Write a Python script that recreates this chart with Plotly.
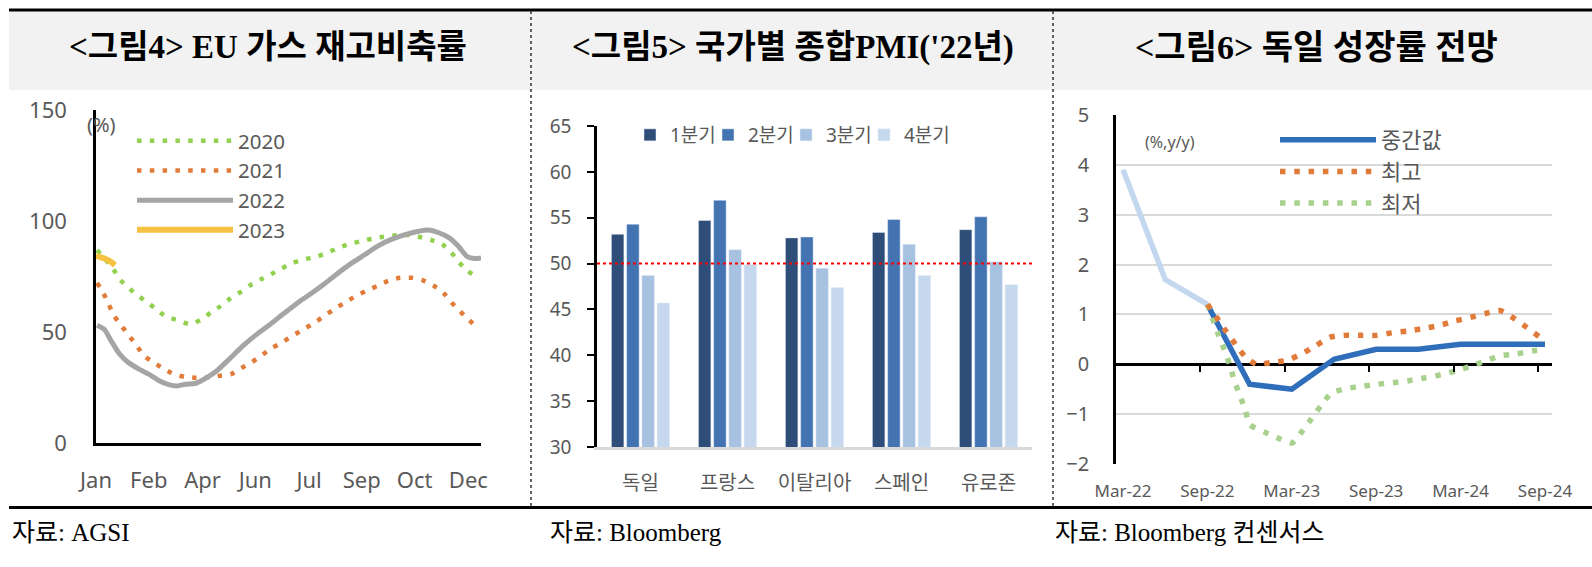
import plotly.graph_objects as go

W, H = 1592, 567


def fx(px):
    return px / W


def fy(py):
    return 1 - py / H


# ---------------- Panel 1: EU gas storage (%) ----------------
MONTH_TICK_DAYS = [0, 50, 101, 151, 202, 252, 302, 353]
MONTH_TICK_LABELS = ["Jan", "Feb", "Apr", "Jun", "Jul", "Sep", "Oct", "Dec"]

DAYS_2020 = [1, 16, 22, 30, 39, 49, 58, 67, 78, 89, 100, 109, 118, 127, 137, 146, 156, 166, 176,
             187, 197, 209, 219, 230, 240, 251, 262, 273, 285, 296, 307, 318, 328, 337, 344, 352, 362]
VAL_2020 = [86.9, 78.6, 74.0, 70.3, 66.6, 63.3, 59.8, 56.8, 55.3, 53.5, 55.6, 58.8, 61.6, 65.0, 68.0,
            71.0, 73.6, 76.0, 78.6, 81.2, 82.7, 83.9, 85.7, 87.9, 89.6, 90.9, 92.1, 92.9, 93.6, 93.6,
            92.8, 91.4, 89.6, 85.7, 81.5, 77.6, 74.6]

DAYS_2021 = [1, 7, 12, 17, 24, 31, 38, 45, 54, 64, 74, 84, 95, 107, 118, 128, 138, 148, 158, 167,
             177, 187, 197, 207, 216, 226, 236, 246, 256, 267, 277, 288, 299, 310, 321, 330, 337, 345, 354, 362]
VAL_2021 = [72.1, 67.6, 62.5, 57.4, 52.9, 48.5, 44.3, 39.5, 36.5, 33.5, 31.0, 29.8, 29.4, 29.6, 30.3,
            31.0, 33.8, 36.5, 39.8, 42.8, 45.5, 48.5, 51.3, 54.1, 57.1, 60.3, 63.3, 66.1, 68.5, 70.8,
            73.0, 74.4, 74.4, 73.3, 70.6, 67.3, 63.3, 59.4, 55.3, 51.6]

DAYS_2022 = [1, 8, 14, 22, 30, 40, 50, 59, 69, 77, 85, 94, 102, 114, 126, 139, 152, 165, 178, 191,
             203, 216, 229, 242, 255, 267, 280, 293, 306, 315, 325, 335, 344, 352, 359, 365]
VAL_2022 = [53.0, 51.1, 46.3, 40.3, 36.5, 33.5, 31.0, 28.3, 26.3, 25.7, 26.5, 26.8, 28.6, 32.3, 37.6,
            43.6, 48.8, 53.4, 58.3, 63.1, 67.0, 71.5, 76.4, 80.9, 84.9, 88.7, 91.7, 93.9, 95.4, 95.9,
            94.7, 92.4, 88.4, 83.9, 83.1, 83.4]

DAYS_2023 = [0, 8, 14, 18]
VAL_2023 = [84.3, 83.1, 81.6, 80.1]

# ---------------- Panel 2: composite PMI 2022 ----------------
COUNTRIES = ["독일", "프랑스", "이탈리아", "스페인", "유로존"]
QUARTERS = ["1분기", "2분기", "3분기", "4분기"]
PMI_Q1 = [53.2, 54.7, 52.8, 53.4, 53.7]
PMI_Q2 = [54.3, 56.9, 52.9, 54.8, 55.1]
PMI_Q3 = [48.7, 51.5, 49.5, 52.1, 50.2]
PMI_Q4 = [45.7, 49.9, 47.4, 48.7, 47.7]
PMI_THRESHOLD = 50

# ---------------- Panel 3: German growth outlook (%, y/y) ----------------
# x = months since Mar-22
GROWTH_TICKS = [0, 6, 12, 18, 24, 30]
GROWTH_TICK_LABELS = ["Mar-22", "Sep-22", "Mar-23", "Sep-23", "Mar-24", "Sep-24"]
GROWTH_MINOR_TICKS = [5.5, 11.5, 17.5, 23.5, 29.5]

ACTUAL_M = [0, 3, 6]
ACTUAL_V = [3.9, 1.7, 1.2]

MEDIAN_M = [6, 9, 12, 15, 18, 21, 24, 27, 30]
MEDIAN_V = [1.2, -0.4, -0.5, 0.1, 0.3, 0.3, 0.4, 0.4, 0.4]

HIGH_M = [6.0, 6.7, 7.3, 8.0, 8.7, 9.5, 10.6, 11.7, 12.7, 13.7, 14.7, 15.7, 16.9, 18.0, 19.1, 20.3,
          21.4, 22.5, 23.6, 24.7, 25.8, 26.8, 27.8, 28.7, 29.6, 29.9]
HIGH_V = [1.20, 0.92, 0.67, 0.40, 0.15, 0.00, 0.04, 0.08, 0.21, 0.37, 0.54, 0.58, 0.58, 0.58, 0.63,
          0.67, 0.72, 0.78, 0.87, 0.94, 1.02, 1.08, 0.92, 0.74, 0.55, 0.49]

LOW_M = [6.0, 6.4, 6.8, 7.2, 7.6, 7.9, 8.3, 8.7, 9.0, 10.05, 11.1, 12.0, 12.75, 13.4, 14.1, 14.8,
         15.8, 17.0, 18.1, 19.2, 20.3, 21.5, 22.6, 23.7, 24.7, 25.8, 26.8, 28.0, 29.1, 29.9]
LOW_V = [1.20, 0.88, 0.58, 0.29, -0.02, -0.32, -0.62, -0.92, -1.21, -1.36, -1.49, -1.58, -1.34, -1.09,
         -0.82, -0.58, -0.49, -0.44, -0.40, -0.37, -0.33, -0.27, -0.21, -0.13, -0.04, 0.07, 0.17, 0.21,
         0.27, 0.30]

SANS = "Noto Sans, Noto Sans CJK KR, sans-serif"
SERIF = "Liberation Serif, Noto Sans CJK KR, serif"
TXT = "#595959"

fig = go.Figure()

# Panel 1 traces
fig.add_trace(go.Scatter(x=DAYS_2020, y=VAL_2020, name="2020", mode="lines",
                         line=dict(color="#92D050", width=4.5, dash="4.5px,8.3px", shape="spline", smoothing=0.6),
                         xaxis="x", yaxis="y", legend="legend"))
fig.add_trace(go.Scatter(x=DAYS_2021, y=VAL_2021, name="2021", mode="lines",
                         line=dict(color="#E07B39", width=4.5, dash="4.5px,8.3px", shape="spline", smoothing=0.6),
                         xaxis="x", yaxis="y", legend="legend"))
fig.add_trace(go.Scatter(x=DAYS_2022, y=VAL_2022, name="2022", mode="lines",
                         line=dict(color="#A5A5A5", width=5, shape="spline", smoothing=0.6),
                         xaxis="x", yaxis="y", legend="legend"))
fig.add_trace(go.Scatter(x=DAYS_2023, y=VAL_2023, name="2023", mode="lines",
                         line=dict(color="#F5C242", width=6, shape="spline", smoothing=0.6),
                         xaxis="x", yaxis="y", legend="legend"))

# Panel 2 traces
for i, (name, vals, col) in enumerate(zip(QUARTERS, [PMI_Q1, PMI_Q2, PMI_Q3, PMI_Q4],
                                          ["#2E4D78", "#4373B1", "#A7C1E1", "#C5D8EE"])):
    fig.add_trace(go.Bar(x=COUNTRIES, y=vals, name=name, marker=dict(color=col),
                         xaxis="x2", yaxis="y2", legend="legend2",
                         legendwidth=60 if i == len(QUARTERS) - 1 else 33))

# Panel 3 traces
fig.add_trace(go.Scatter(x=ACTUAL_M, y=ACTUAL_V, name="실적", mode="lines", showlegend=False,
                         line=dict(color="#C3D7EE", width=5.5), xaxis="x3", yaxis="y3"))
fig.add_trace(go.Scatter(x=MEDIAN_M, y=MEDIAN_V, name="중간값", mode="lines",
                         line=dict(color="#2F6EBA", width=5.5), xaxis="x3", yaxis="y3", legend="legend3"))
fig.add_trace(go.Scatter(x=HIGH_M, y=HIGH_V, name="최고", mode="lines",
                         line=dict(color="#E07B39", width=5.5, dash="5.5px,8.8px", shape="spline", smoothing=0.6),
                         xaxis="x4", yaxis="y3", legend="legend3"))
fig.add_trace(go.Scatter(x=LOW_M, y=LOW_V, name="최저", mode="lines",
                         line=dict(color="#A9D18E", width=5.5, dash="5.5px,8.8px", shape="spline", smoothing=0.6),
                         xaxis="x3", yaxis="y3", legend="legend3"))

fig.update_layout(
    width=W, height=H, margin=dict(l=0, r=0, t=0, b=0, pad=0, autoexpand=False),
    paper_bgcolor="white", plot_bgcolor="white",
    font=dict(family=SANS, color=TXT),
    barmode="group", bargap=0.30, bargroupgap=0.18,
    xaxis=dict(domain=[fx(96), fx(481)], range=[0, 365], anchor="y",
               tickvals=MONTH_TICK_DAYS, ticktext=MONTH_TICK_LABELS, ticks="",
               showline=True, linecolor="black", linewidth=2.5, showgrid=False, zeroline=False,
               tickfont=dict(size=22, color=TXT), ticklabelstandoff=16),
    yaxis=dict(domain=[fy(443), fy(110)], range=[0, 150], anchor="x",
               tickvals=[0, 50, 100, 150], ticks="",
               showline=True, linecolor="black", linewidth=2.5, showgrid=False, zeroline=False,
               tickfont=dict(size=22, color=TXT), ticklabelstandoff=22),
    xaxis2=dict(domain=[fx(597), fx(1032)], anchor="y2", ticks="",
                showline=True, linecolor="#D9D9D9", linewidth=3, showgrid=False,
                tickfont=dict(size=20, color=TXT), ticklabelstandoff=16),
    yaxis2=dict(domain=[fy(447), fy(126)], range=[30, 65], dtick=5, anchor="x2",
                ticks="outside", ticklen=7, tickwidth=2, tickcolor="black",
                showline=True, linecolor="black", linewidth=2.5, showgrid=False, zeroline=False,
                tickfont=dict(size=19, color=TXT), ticklabelstandoff=12),
    xaxis3=dict(domain=[fx(1116), fx(1552)], range=[-0.5, 30.5], anchor="y3",
                tickvals=GROWTH_TICKS, ticktext=GROWTH_TICK_LABELS, ticks="",
                showline=False, showgrid=False, zeroline=False,
                tickfont=dict(size=17, color=TXT), ticklabelstandoff=15),
    xaxis4=dict(overlaying="x3", anchor="free", position=fy(364), range=[-0.5, 30.5],
                tickvals=GROWTH_MINOR_TICKS, ticks="outside", ticklen=7, tickwidth=2, tickcolor="black",
                showticklabels=False, showline=False, showgrid=False, zeroline=False),
    yaxis3=dict(domain=[fy(464), fy(115)], range=[-2, 5], dtick=1, anchor="x3", ticks="",
                showline=True, linecolor="black", linewidth=2.5,
                showgrid=True, gridcolor="#D9D9D9", gridwidth=2,
                zeroline=True, zerolinecolor="black", zerolinewidth=2.5,
                tickfont=dict(size=20, color=TXT), ticklabelstandoff=20),
    legend=dict(x=fx(132), y=fy(121), xanchor="left", yanchor="top", bgcolor="rgba(0,0,0,0)",
                font=dict(size=20.5, color=TXT), itemwidth=96, tracegroupgap=0),
    legend2=dict(orientation="h", x=fx(630), y=fy(135), xanchor="left", yanchor="middle",
                 bgcolor="rgba(0,0,0,0)", font=dict(size=19, color=TXT), itemwidth=30,
                 entrywidthmode="pixels"),
    legend3=dict(x=fx(1275), y=fy(119), xanchor="left", yanchor="top", bgcolor="rgba(0,0,0,0)",
                 font=dict(size=22, color=TXT), itemwidth=96, tracegroupgap=0),
)

shapes = [
    dict(type="rect", xref="paper", yref="paper", x0=fx(9), x1=1, y0=fy(90), y1=fy(11),
         fillcolor="#F2F2F2", line=dict(width=0), layer="below"),
    dict(type="line", xref="paper", yref="paper", x0=fx(9), x1=1, y0=fy(10), y1=fy(10),
         line=dict(color="black", width=3)),
    dict(type="line", xref="paper", yref="paper", x0=fx(9), x1=1, y0=fy(507.5), y1=fy(507.5),
         line=dict(color="black", width=3)),
    dict(type="line", xref="paper", yref="paper", x0=fx(531), x1=fx(531), y0=fy(506), y1=fy(11),
         line=dict(color="#333333", width=1.5, dash="dot")),
    dict(type="line", xref="paper", yref="paper", x0=fx(1053), x1=fx(1053), y0=fy(506), y1=fy(11),
         line=dict(color="#333333", width=1.5, dash="dot")),
    dict(type="line", xref="x2 domain", yref="y2", x0=0, x1=1, y0=PMI_THRESHOLD, y1=PMI_THRESHOLD,
         line=dict(color="#FF0000", width=2, dash="dot")),
]
fig.update_layout(shapes=shapes)

annotations = [
    dict(text="<b>&lt;그림4&gt; EU 가스 재고비축률</b>", x=fx(268), y=fy(47), size=33),
    dict(text="<b>&lt;그림5&gt; 국가별 종합PMI('22년)</b>", x=fx(793), y=fy(47), size=33),
    dict(text="<b>&lt;그림6&gt; 독일 성장률 전망</b>", x=fx(1316), y=fy(47), size=34),
]
for a in annotations:
    sz = a.pop("size")
    a.update(xref="paper", yref="paper", showarrow=False, xanchor="center", yanchor="middle",
             font=dict(family=SERIF, size=sz, color="black"))

sources = [
    dict(text="자료: AGSI", x=fx(10)),
    dict(text="자료: Bloomberg", x=fx(548)),
    dict(text="자료: Bloomberg 컨센서스", x=fx(1053)),
]
for s in sources:
    s.update(xref="paper", yref="paper", y=fy(532), showarrow=False, xanchor="left", yanchor="middle",
             font=dict(family=SERIF, size=25, color="black"))

units = [
    dict(text="(%)", x=fx(101), y=fy(125), font=dict(family=SANS, size=20, color=TXT)),
    dict(text="(%,y/y)", x=fx(1170), y=fy(142), font=dict(family=SANS, size=16, color=TXT)),
]
for u in units:
    u.update(xref="paper", yref="paper", showarrow=False, xanchor="center", yanchor="middle")

fig.update_layout(annotations=annotations + sources + units)

fig.write_html("out.html")
